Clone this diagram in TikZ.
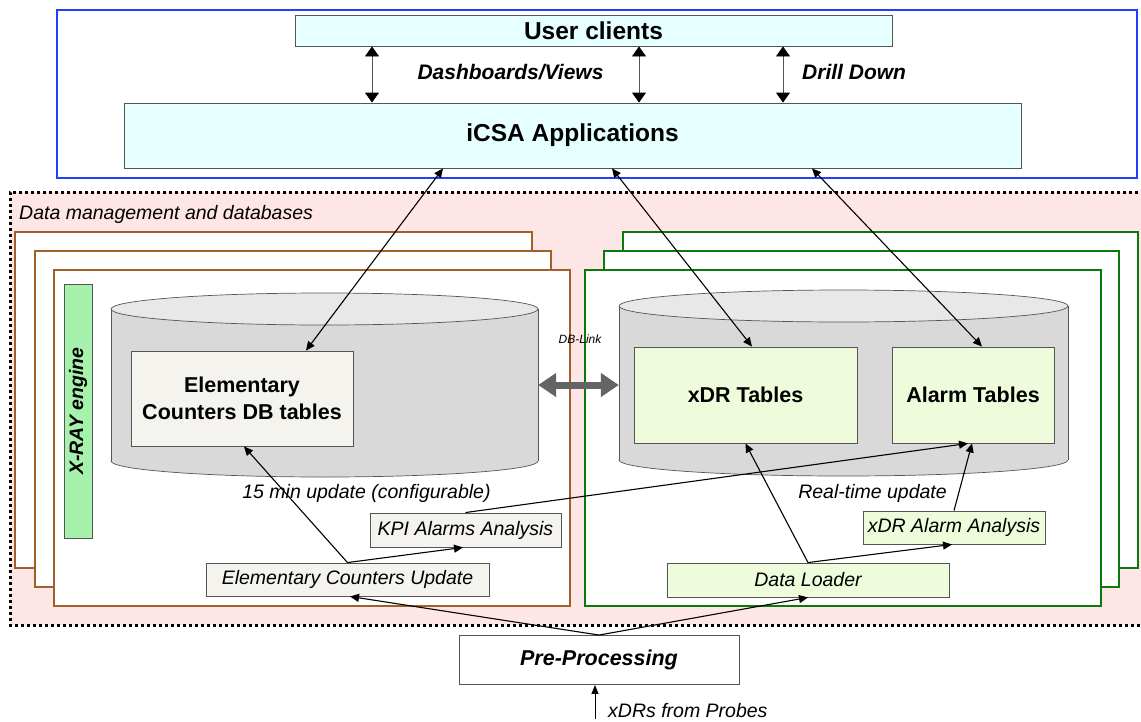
\documentclass[tikz,border=0pt]{standalone}
\usepackage{fontspec}
\setmainfont{Liberation Sans}
\usetikzlibrary{arrows.meta,calc}
\definecolor{cyanfill}{HTML}{E6FFFF}
\definecolor{pinkfill}{HTML}{FFE6E6}
\definecolor{beigefill}{HTML}{F5F3EE}
\definecolor{limefill}{HTML}{EFFCDC}
\definecolor{xrayfill}{HTML}{A6F2AC}
\definecolor{cylside}{HTML}{D9D9D9}
\definecolor{cyltop}{HTML}{E8E8E8}
\definecolor{boxgray}{HTML}{555555}
\definecolor{framebrown}{HTML}{A0602A}
\definecolor{framegreen}{HTML}{0A7A0A}
\definecolor{frameblue}{HTML}{2040FF}
\definecolor{linkgray}{HTML}{646464}
\begin{document}
\begin{tikzpicture}[x=1pt,y=-1pt,
  font=\fontsize{19.5}{22}\selectfont,
  panel/.style={draw=boxgray, line width=0.9pt, inner sep=0pt},
  conn/.style={line width=1.1pt, -{Triangle[length=9pt,width=8pt]}},
  biconn/.style={line width=1.1pt, {Triangle[length=9pt,width=8pt]}-{Triangle[length=9pt,width=8pt]}},
  topconn/.style={line width=0.9pt, draw=boxgray, {Triangle[length=10pt,width=14pt,color=black]}-{Triangle[length=10pt,width=14pt,color=black]}},
  bigtitle/.style={font=\bfseries\fontsize{24.5}{28}\selectfont},
  tabletitle/.style={font=\bfseries\fontsize{21.5}{27}\selectfont, align=center},
  itlabel/.style={font=\itshape\fontsize{19.5}{22}\selectfont, inner sep=0pt},
  bilabel/.style={font=\bfseries\itshape\fontsize{21}{24}\selectfont, inner sep=0pt},
  brownframe/.style={draw=framebrown, line width=2pt, fill=white},
  greenframe/.style={draw=framegreen, line width=2pt, fill=white},
]
\useasboundingbox (0,0) rectangle (1141,721);

% ---------- top: applications ----------
\draw[frameblue, line width=2pt] (57,10) rectangle (1137,178);
\node[panel, fill=cyanfill, minimum width=597pt, minimum height=31pt, bigtitle] (uc) at (593.5,30.5) {User clients};
\node[panel, fill=cyanfill, minimum width=897pt, minimum height=65pt, bigtitle] (icsa) at (572.5,135.5) {iCSA Applications};
\draw[topconn] ([xshift=-221.5pt]uc.south) -- ([xshift=-200.5pt]icsa.north);
\draw[topconn] ([xshift=45.5pt]uc.south) -- ([xshift=66.5pt]icsa.north);
\draw[topconn] ([xshift=189.5pt]uc.south) -- ([xshift=210.5pt]icsa.north);
\node[bilabel] (dash) at (510.5,72) {Dashboards/Views};
\node[bilabel, anchor=west] (drill) at (802,72) {Drill Down};

% ---------- data management region ----------
\fill[pinkfill] (10,192) rectangle (1150,625);
\draw[line width=3pt, dash pattern=on 3pt off 3pt] (1150,192) -- (10,192) -- (10,625) -- (1150,625);
\node[itlabel, anchor=west] (dmlabel) at (19,214) {Data management and databases};

% brown stacked frames
\draw[brownframe] (15,232) rectangle (532,568);
\draw[brownframe] (35,251) rectangle (551,587);
\draw[brownframe] (54,270) rectangle (570,606);
% green stacked frames
\draw[greenframe] (623,232) rectangle (1138,568);
\draw[greenframe] (604,251) rectangle (1119,587);
\draw[greenframe] (585,270) rectangle (1101,606);

% X-RAY engine bar
\node[panel, fill=xrayfill, minimum width=28pt, minimum height=254pt] (xray) at (78,411) {};
\node[rotate=90, font=\bfseries\itshape\fontsize{19.5}{22}\selectfont, inner sep=0pt] (xraytxt) at (xray.center) {X-RAY engine};

% left cylinder
\fill[cylside, draw=boxgray, line width=0.7pt] (324.5,461) ellipse [x radius=213.5, y radius=16];
\fill[cylside] (111,309) rectangle (538,461);
\draw[boxgray, line width=0.7pt] (111,309) -- (111,461) (538,309) -- (538,461);
\fill[cyltop, draw=boxgray, line width=0.7pt] (324.5,309) ellipse [x radius=213.5, y radius=16];
\node[inner sep=0pt, minimum width=427pt, minimum height=152pt] (lcyl) at (324.5,385) {};

% right cylinder
\fill[cylside, draw=boxgray, line width=0.7pt] (843.5,460) ellipse [x radius=224.5, y radius=16];
\fill[cylside] (619,306) rectangle (1068,460);
\draw[boxgray, line width=0.7pt] (619,306) -- (619,460) (1068,306) -- (1068,460);
\fill[cyltop, draw=boxgray, line width=0.7pt] (843.5,306) ellipse [x radius=224.5, y radius=16];
\node[inner sep=0pt, minimum width=449pt, minimum height=154pt] (rcyl) at (843.5,383) {};

% tables
\node[panel, fill=beigefill, minimum width=222pt, minimum height=95pt, tabletitle] (ecdb) at (242,398.5) {Elementary\\Counters DB tables};
\node[panel, fill=limefill, minimum width=223pt, minimum height=96pt, tabletitle] (xdrt) at (745.5,395) {xDR Tables};
\node[panel, fill=limefill, minimum width=162pt, minimum height=96pt, tabletitle] (alarmt) at (973,395) {Alarm Tables};

% DB link
\node[font=\itshape\fontsize{12}{14}\selectfont, inner sep=0pt] (dblink) at (580,339) {DB-Link};
\draw[linkgray, line width=7pt, {Triangle[length=18pt,width=23pt]}-{Triangle[length=18pt,width=23pt]}] (lcyl.east) -- (lcyl.east -| rcyl.west);

% processing boxes
\node[panel, fill=beigefill, minimum width=191pt, minimum height=34pt, itlabel] (kpi) at (465.5,530) {KPI Alarms Analysis};
\node[panel, fill=beigefill, minimum width=283pt, minimum height=33pt, itlabel] (ecu) at (347.5,579.5) {Elementary Counters Update};
\node[panel, fill=limefill, minimum width=282pt, minimum height=34pt, itlabel] (dl) at (808,580) {Data Loader};
\node[panel, fill=limefill, minimum width=182pt, minimum height=33pt, itlabel] (xaa) at (954,527.5) {xDR Alarm Analysis};
\node[panel, fill=white, minimum width=280pt, minimum height=49pt, font=\bfseries\itshape\fontsize{21.5}{24}\selectfont] (pre) at (599,660) {Pre-Processing};

% labels
\node[itlabel] (upd15) at (366.5,493) {15 min update (configurable)};
\node[itlabel] (rtupd) at (872.5,493) {Real-time update};
\node[itlabel, anchor=west] (probes) at (608,711) {xDRs from Probes};
\coordinate (probein) at (595,719);

% ---------- connectors ----------
\draw[biconn] ([xshift=-129.5pt]icsa.south) -- ([xshift=64pt]ecdb.north);
\draw[biconn] ([xshift=39.5pt]icsa.south) -- ([xshift=6.5pt]xdrt.north);
\draw[biconn] ([xshift=239.5pt]icsa.south) -- ([xshift=9pt]alarmt.north);

\draw[conn] (ecu.north) -- ([xshift=2pt]ecdb.south);
\draw[conn] (ecu.north) -- ([xshift=-2.5pt]kpi.south);
\draw[conn] (kpi.north) -- ([xshift=-5pt]alarmt.south);

\draw[conn] (pre.north) -- ([xshift=2.5pt]ecu.south);
\draw[conn] (pre.north) -- (dl.south);
\draw[conn] (dl.north) -- (xdrt.south);
\draw[conn] (dl.north) -- ([xshift=-2pt]xaa.south);
\draw[conn] (xaa.north) -- ([xshift=-1pt]alarmt.south);

\draw[line width=1pt, -{Triangle[length=9pt,width=7pt]}] (probein) -- (probein |- pre.south);
\end{tikzpicture}
\end{document}
